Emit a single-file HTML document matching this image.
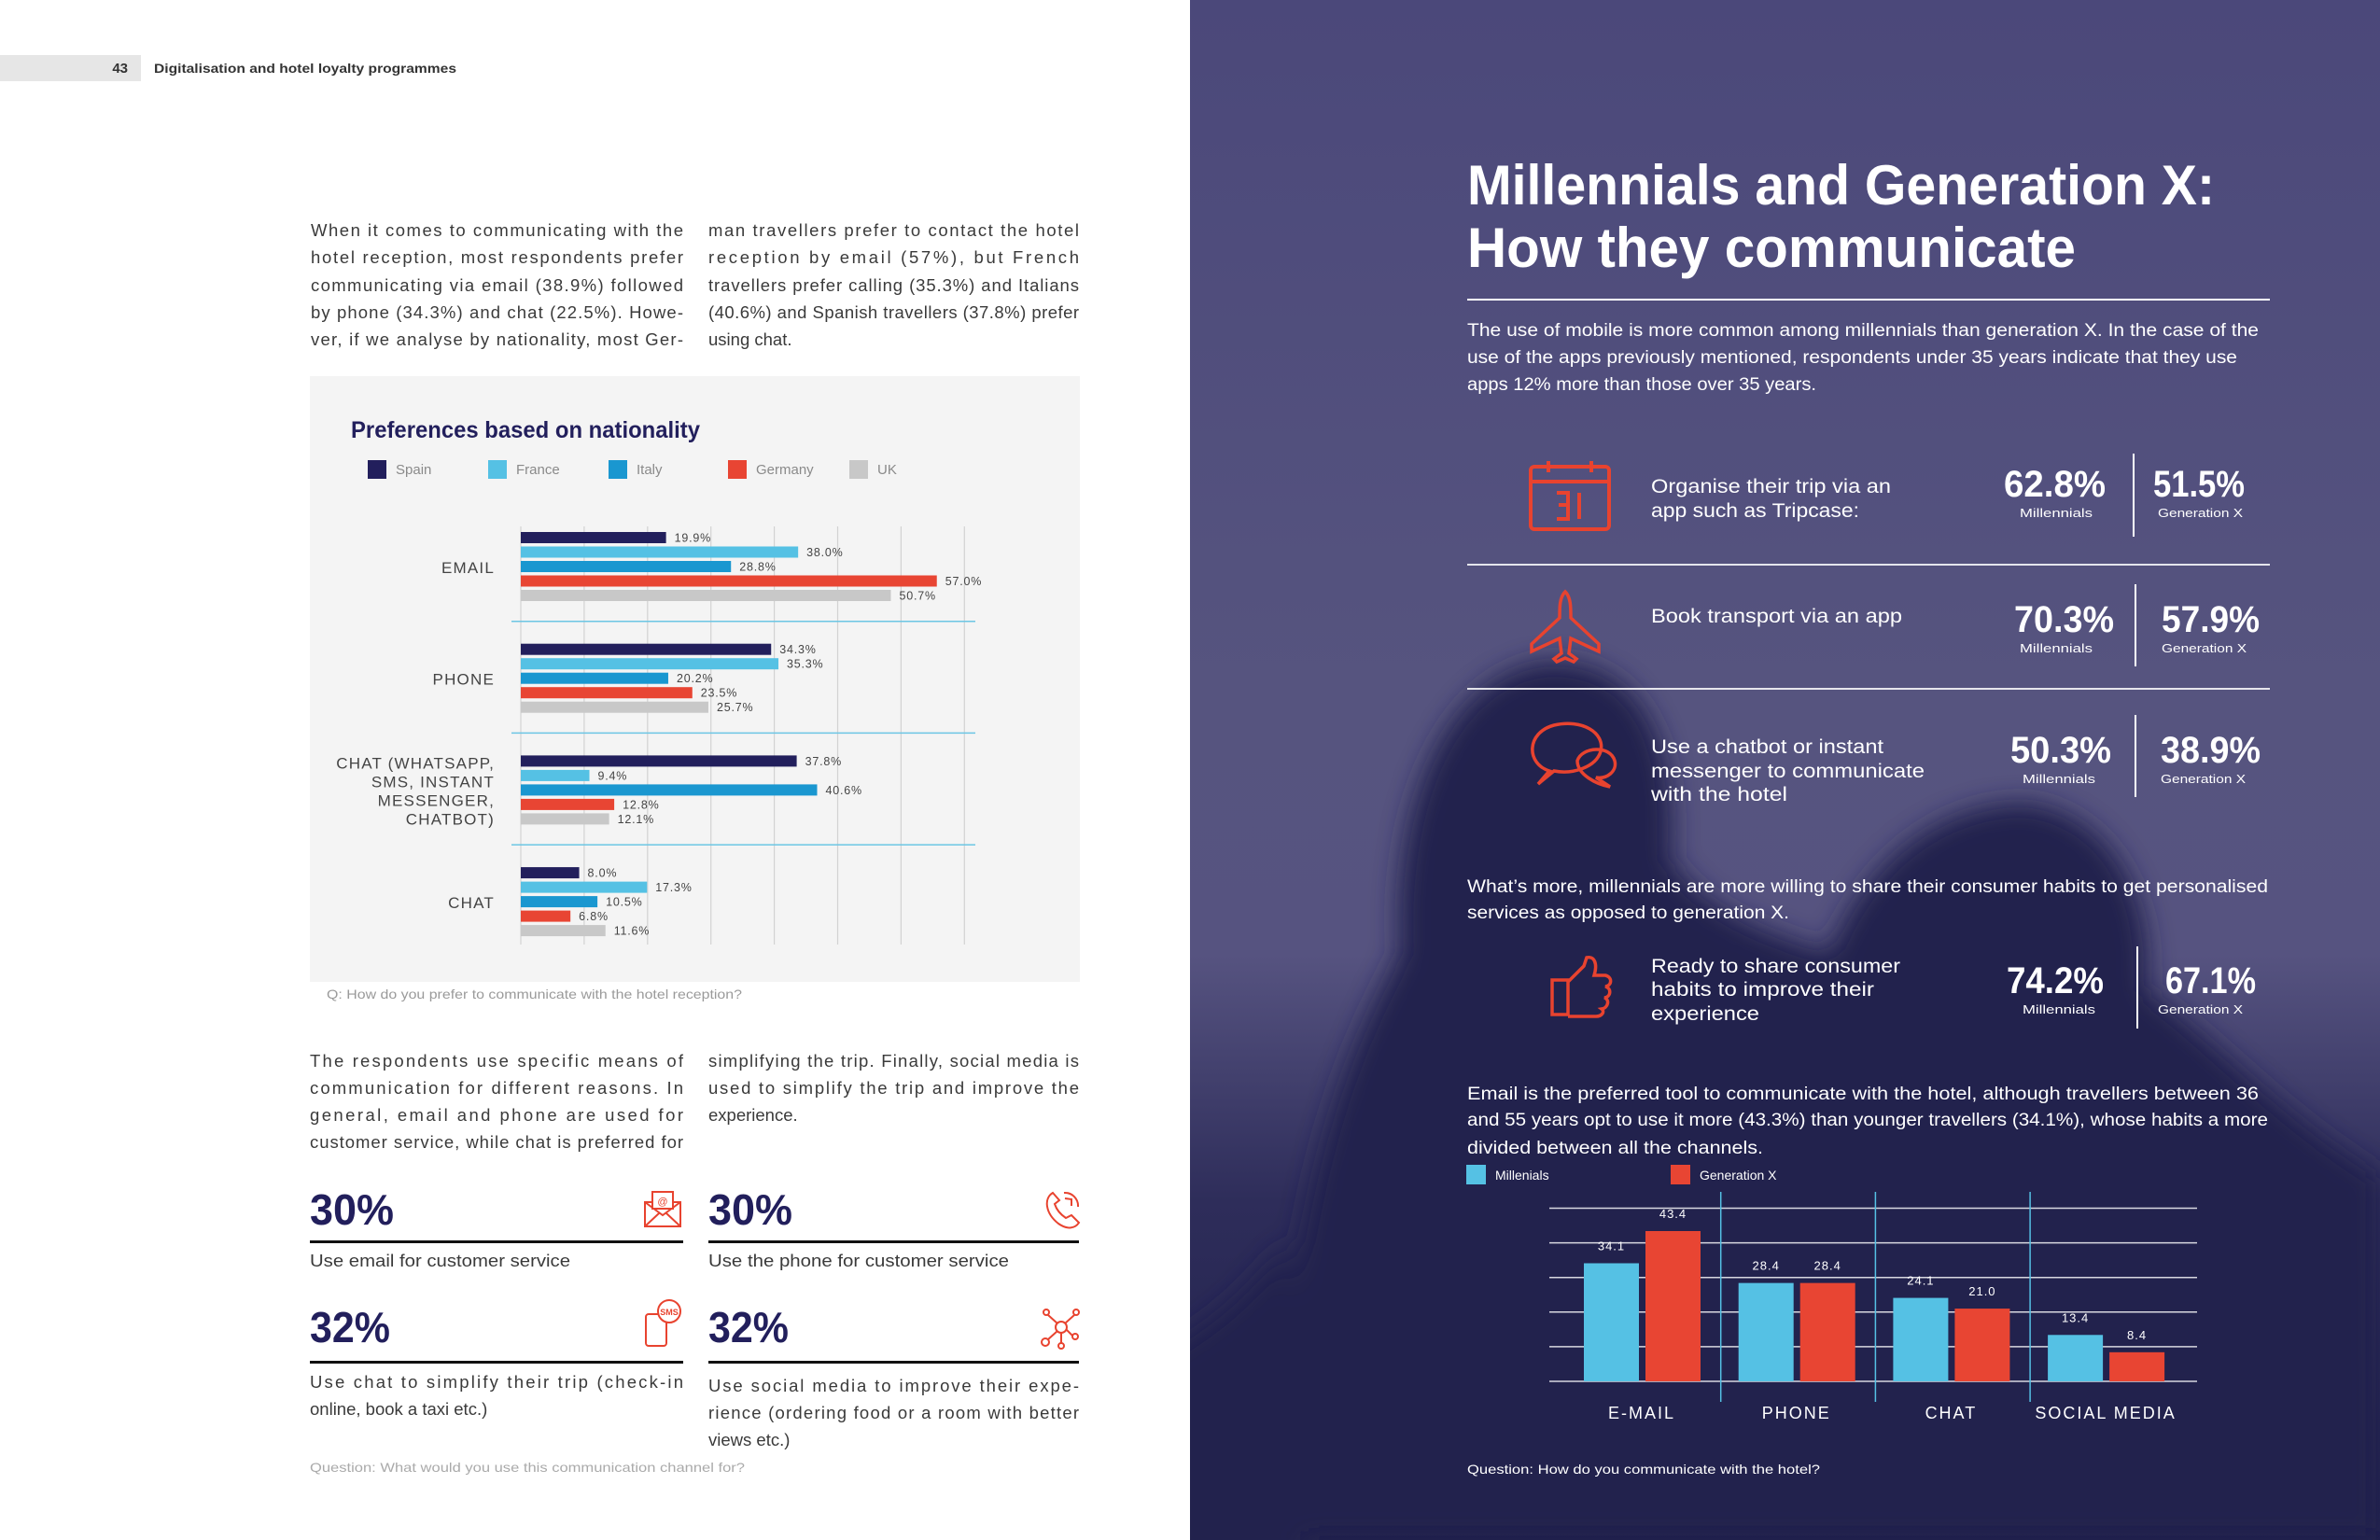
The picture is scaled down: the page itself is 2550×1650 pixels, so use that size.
<!DOCTYPE html>
<html><head><meta charset="utf-8"><title>Millennials and Generation X</title>
<style>
html,body{margin:0;padding:0;background:#fff;}
svg{display:block;font-family:"Liberation Sans",sans-serif;}
</style></head>
<body>
<svg id="page" width="2550" height="1650" viewBox="0 0 2550 1650" xmlns="http://www.w3.org/2000/svg">
<defs>
<linearGradient id="sky" x1="0" y1="0" x2="0" y2="1">
<stop offset="0" stop-color="#4b487a"/>
<stop offset="0.45" stop-color="#56547f"/>
<stop offset="0.62" stop-color="#565380"/>
<stop offset="0.78" stop-color="#2e2d5a"/>
<stop offset="1" stop-color="#1f1f4b"/>
</linearGradient>
<filter id="blur"><feGaussianBlur stdDeviation="14"/></filter>
<clipPath id="rightClip"><rect x="1275" y="0" width="1275" height="1650"/></clipPath>
</defs>

<!-- LEFT PAGE -->
<rect x="0" y="0" width="1275" height="1650" fill="#ffffff"/>
<rect x="0" y="59" width="151" height="28" fill="#e6e6e6"/>
<text x="137" y="78" text-anchor="end" font-size="15" font-weight="bold" fill="#333">43</text>
<text x="165" y="78" font-size="14" font-weight="bold" fill="#333" textLength="324" lengthAdjust="spacingAndGlyphs">Digitalisation and hotel loyalty programmes</text>

<g font-size="18.5" fill="#3a3a3a">
<text x="333" y="253" textLength="399" lengthAdjust="spacing">When it comes to communicating with the</text>
<text x="333" y="282" textLength="399" lengthAdjust="spacing">hotel reception, most respondents prefer</text>
<text x="333" y="312" textLength="399" lengthAdjust="spacing">communicating via email (38.9%) followed</text>
<text x="333" y="341" textLength="399" lengthAdjust="spacing">by phone (34.3%) and chat (22.5%). Howe-</text>
<text x="333" y="370" textLength="399" lengthAdjust="spacing">ver, if we analyse by nationality, most Ger-</text>
<text x="759" y="253" textLength="397" lengthAdjust="spacing">man travellers prefer to contact the hotel</text>
<text x="759" y="282" textLength="397" lengthAdjust="spacing">reception by email (57%), but French</text>
<text x="759" y="312" textLength="397" lengthAdjust="spacing">travellers prefer calling (35.3%) and Italians</text>
<text x="759" y="341" textLength="397" lengthAdjust="spacing">(40.6%) and Spanish travellers (37.8%) prefer</text>
<text x="759" y="370">using chat.</text>
</g>

<rect x="332" y="403" width="825" height="649" fill="#f4f4f4"/>
<text x="376" y="469" font-size="25" font-weight="bold" fill="#221f5c" textLength="374" lengthAdjust="spacingAndGlyphs">Preferences based on nationality</text>
<g id="leftLegend"></g>
<g id="leftChart"></g>
<text x="350" y="1070" font-size="14" fill="#9a9a9a" textLength="445" lengthAdjust="spacingAndGlyphs">Q: How do you prefer to communicate with the hotel reception?</text>

<g font-size="18.5" fill="#3a3a3a">
<text x="332" y="1143" textLength="400" lengthAdjust="spacing">The respondents use specific means of</text>
<text x="332" y="1172" textLength="400" lengthAdjust="spacing">communication for different reasons. In</text>
<text x="332" y="1201" textLength="400" lengthAdjust="spacing">general, email and phone are used for</text>
<text x="332" y="1230" textLength="400" lengthAdjust="spacing">customer service, while chat is preferred for</text>
<text x="759" y="1143" textLength="397" lengthAdjust="spacing">simplifying the trip. Finally, social media is</text>
<text x="759" y="1172" textLength="397" lengthAdjust="spacing">used to simplify the trip and improve the</text>
<text x="759" y="1201">experience.</text>
</g>

<g>
<text x="332" y="1312" font-size="46" font-weight="bold" fill="#221f5c" textLength="90" lengthAdjust="spacingAndGlyphs">30%</text>
<rect x="332" y="1329" width="400" height="3" fill="#111"/>
<text x="332" y="1357" font-size="18.5" fill="#3a3a3a" textLength="279" lengthAdjust="spacingAndGlyphs">Use email for customer service</text>
<g fill="none" stroke="#e8432f" stroke-width="2"><rect x="691" y="1288" width="38" height="26"/><path d="M691 1288 L710 1302 L729 1288 M691 1314 L706 1300 M729 1314 L714 1300"/><rect x="699" y="1277" width="22" height="18" fill="#fff"/><text x="710" y="1291" font-size="11" text-anchor="middle" fill="#e8432f" stroke="none">@</text></g>
</g>
<g>
<text x="759" y="1312" font-size="46" font-weight="bold" fill="#221f5c" textLength="90" lengthAdjust="spacingAndGlyphs">30%</text>
<rect x="759" y="1329" width="397" height="3" fill="#111"/>
<text x="759" y="1357" font-size="18.5" fill="#3a3a3a" textLength="322" lengthAdjust="spacingAndGlyphs">Use the phone for customer service</text>
<path d="M1128 1278 C1118 1284 1120 1300 1134 1311 C1144 1318 1152 1316 1156 1310 L1148 1302 L1142 1305 C1136 1301 1132 1296 1130 1290 L1135 1286 Z M1140 1278 A14 14 0 0 1 1155 1293 M1141 1284 L1148 1285 L1148 1292" fill="none" stroke="#e8432f" stroke-width="2"/>
</g>
<g>
<text x="332" y="1438" font-size="46" font-weight="bold" fill="#221f5c" textLength="86" lengthAdjust="spacingAndGlyphs">32%</text>
<rect x="332" y="1458" width="400" height="3" fill="#111"/>
<text x="332" y="1487" font-size="18.5" fill="#3a3a3a" textLength="400" lengthAdjust="spacing">Use chat to simplify their trip (check-in</text>
<text x="332" y="1516" font-size="18.5" fill="#3a3a3a">online, book a taxi etc.)</text>
<g fill="none" stroke="#e8432f" stroke-width="2"><rect x="692" y="1408" width="22" height="34" rx="3"/><circle cx="717" cy="1405" r="12" fill="#fff"/><text x="717" y="1409" font-size="9" font-weight="bold" text-anchor="middle" fill="#e8432f" stroke="none">SMS</text></g>
</g>
<g>
<text x="759" y="1438" font-size="46" font-weight="bold" fill="#221f5c" textLength="86" lengthAdjust="spacingAndGlyphs">32%</text>
<rect x="759" y="1458" width="397" height="3" fill="#111"/>
<text x="759" y="1491" font-size="18.5" fill="#3a3a3a" textLength="397" lengthAdjust="spacing">Use social media to improve their expe-</text>
<text x="759" y="1520" font-size="18.5" fill="#3a3a3a" textLength="397" lengthAdjust="spacing">rience (ordering food or a room with better</text>
<text x="759" y="1549" font-size="18.5" fill="#3a3a3a">views etc.)</text>
<g fill="none" stroke="#e8432f" stroke-width="2"><circle cx="1137" cy="1422" r="6"/><circle cx="1121" cy="1406" r="3"/><circle cx="1153" cy="1406" r="3"/><circle cx="1120" cy="1438" r="4"/><circle cx="1152" cy="1432" r="3"/><circle cx="1137" cy="1442" r="3"/><path d="M1123 1409 L1133 1418 M1151 1409 L1141 1418 M1123 1435 L1133 1426 M1149 1431 L1143 1425 M1137 1428 L1137 1439"/></g>
</g>
<text x="332" y="1577" font-size="14" fill="#aaaaaa" textLength="466" lengthAdjust="spacingAndGlyphs">Question: What would you use this communication channel for?</text>

<!-- RIGHT PAGE -->
<rect x="1275" y="0" width="1275" height="1650" fill="url(#sky)"/>
<g clip-path="url(#rightClip)">
<g filter="url(#blur)" fill="#23224e">
<path d="M1330 1650 L1400 1300 C1430 1150 1470 1080 1500 1020 C1490 880 1540 730 1650 710 C1760 700 1800 800 1790 920 C1830 980 1900 1000 1960 1020 C2000 920 2080 860 2170 860 C2260 870 2310 960 2300 1060 C2380 1120 2450 1200 2550 1260 L2550 1650 Z"/>
<path d="M1240 1700 L1240 1450 C1300 1420 1340 1380 1380 1330 L1400 1700 Z"/>
</g>
</g>

<g fill="#ffffff">
<text x="1572" y="219" font-size="60" font-weight="bold" textLength="801" lengthAdjust="spacingAndGlyphs">Millennials and Generation X:</text>
<text x="1572" y="286" font-size="60" font-weight="bold" textLength="652" lengthAdjust="spacingAndGlyphs">How they communicate</text>
</g>
<rect x="1572" y="320" width="860" height="2" fill="#ffffff"/>
<g fill="#ffffff" font-size="19">
<text x="1572" y="360" textLength="848" lengthAdjust="spacingAndGlyphs">The use of mobile is more common among millennials than generation X. In the case of the</text>
<text x="1572" y="389" textLength="825" lengthAdjust="spacingAndGlyphs">use of the apps previously mentioned, respondents under 35 years indicate that they use</text>
<text x="1572" y="418" textLength="374" lengthAdjust="spacingAndGlyphs">apps 12% more than those over 35 years.</text>
</g>

<g fill="none" stroke="#e8432f" stroke-width="4"><rect x="1640" y="500" width="84" height="67" rx="4"/><line x1="1640" y1="516" x2="1724" y2="516"/><line x1="1659" y1="494" x2="1659" y2="506"/><line x1="1705" y1="494" x2="1705" y2="506"/><path d="M1668 528 H1680 V541 H1670 M1680 541 V556 H1668 M1692 528 V556"/></g>
<g fill="#ffffff">
<text x="1769" y="528" font-size="21" textLength="257" lengthAdjust="spacingAndGlyphs">Organise their trip via an</text>
<text x="1769" y="554" font-size="21" textLength="223" lengthAdjust="spacingAndGlyphs">app such as Tripcase:</text>
<text x="2147" y="532" font-size="40" font-weight="bold" textLength="109" lengthAdjust="spacingAndGlyphs">62.8%</text>
<text x="2164" y="554" font-size="13" textLength="78" lengthAdjust="spacingAndGlyphs">Millennials</text>
<text x="2307" y="532" font-size="40" font-weight="bold" textLength="98" lengthAdjust="spacingAndGlyphs">51.5%</text>
<text x="2312" y="554" font-size="13" textLength="91" lengthAdjust="spacingAndGlyphs">Generation X</text>
<rect x="2285" y="486" width="2" height="89"/>
</g>
<rect x="1572" y="604" width="860" height="2" fill="#ffffff" opacity="0.85"/>
<path d="M1677 634 C1671 640 1671 650 1671 662 L1641 690 L1641 698 L1671 684 L1673 700 L1665 706 L1668 709 L1677 705 L1686 709 L1689 706 L1681 700 L1683 684 L1713 698 L1713 690 L1683 662 C1683 650 1683 640 1677 634 Z" fill="none" stroke="#e8432f" stroke-width="3.5"/>
<g fill="#ffffff">
<text x="1769" y="667" font-size="21" textLength="269" lengthAdjust="spacingAndGlyphs">Book transport via an app</text>
<text x="2158" y="677" font-size="40" font-weight="bold" textLength="107" lengthAdjust="spacingAndGlyphs">70.3%</text>
<text x="2164" y="699" font-size="13" textLength="78" lengthAdjust="spacingAndGlyphs">Millennials</text>
<text x="2316" y="677" font-size="40" font-weight="bold" textLength="105" lengthAdjust="spacingAndGlyphs">57.9%</text>
<text x="2316" y="699" font-size="13" textLength="91" lengthAdjust="spacingAndGlyphs">Generation X</text>
<rect x="2287" y="626" width="2" height="88"/>
</g>
<rect x="1572" y="737" width="860" height="2" fill="#ffffff" opacity="0.85"/>
<g fill="none" stroke="#e8432f" stroke-width="3.5"><path d="M1660 826 C1635 818 1635 785 1665 777 C1695 770 1720 785 1715 805 C1710 822 1685 830 1665 826 L1648 840 Z"/><path d="M1690 815 C1695 800 1725 798 1730 815 C1733 826 1722 835 1710 833 L1725 843 C1710 840 1690 830 1690 815 Z"/></g>
<g fill="#ffffff">
<text x="1769" y="807" font-size="21" textLength="249" lengthAdjust="spacingAndGlyphs">Use a chatbot or instant</text>
<text x="1769" y="833" font-size="21" textLength="293" lengthAdjust="spacingAndGlyphs">messenger to communicate</text>
<text x="1769" y="858" font-size="21" textLength="146" lengthAdjust="spacingAndGlyphs">with the hotel</text>
<text x="2154" y="817" font-size="40" font-weight="bold" textLength="108" lengthAdjust="spacingAndGlyphs">50.3%</text>
<text x="2167" y="839" font-size="13" textLength="78" lengthAdjust="spacingAndGlyphs">Millennials</text>
<text x="2315" y="817" font-size="40" font-weight="bold" textLength="107" lengthAdjust="spacingAndGlyphs">38.9%</text>
<text x="2315" y="839" font-size="13" textLength="91" lengthAdjust="spacingAndGlyphs">Generation X</text>
<rect x="2287" y="766" width="2" height="88"/>
</g>
<g fill="#ffffff" font-size="19">
<text x="1572" y="956" textLength="858" lengthAdjust="spacingAndGlyphs">What’s more, millennials are more willing to share their consumer habits to get personalised</text>
<text x="1572" y="984" textLength="345" lengthAdjust="spacingAndGlyphs">services as opposed to generation X.</text>
</g>
<path d="M1663 1050 H1680 V1087 H1663 Z M1680 1052 L1697 1035 L1700 1026 C1708 1024 1712 1032 1708 1045 H1720 C1728 1047 1727 1056 1720 1057 C1727 1059 1726 1068 1719 1069 C1725 1071 1723 1080 1716 1081 C1720 1084 1716 1089 1710 1089 H1680" fill="none" stroke="#e8432f" stroke-width="3.5"/>
<g fill="#ffffff">
<text x="1769" y="1042" font-size="21" textLength="267" lengthAdjust="spacingAndGlyphs">Ready to share consumer</text>
<text x="1769" y="1067" font-size="21" textLength="239" lengthAdjust="spacingAndGlyphs">habits to improve their</text>
<text x="1769" y="1093" font-size="21" textLength="116" lengthAdjust="spacingAndGlyphs">experience</text>
<text x="2150" y="1064" font-size="40" font-weight="bold" textLength="104" lengthAdjust="spacingAndGlyphs">74.2%</text>
<text x="2167" y="1086" font-size="13" textLength="78" lengthAdjust="spacingAndGlyphs">Millennials</text>
<text x="2320" y="1064" font-size="40" font-weight="bold" textLength="97" lengthAdjust="spacingAndGlyphs">67.1%</text>
<text x="2312" y="1086" font-size="13" textLength="91" lengthAdjust="spacingAndGlyphs">Generation X</text>
<rect x="2289" y="1014" width="2" height="88"/>
</g>
<g fill="#ffffff" font-size="19">
<text x="1572" y="1178" textLength="848" lengthAdjust="spacingAndGlyphs">Email is the preferred tool to communicate with the hotel, although travellers between 36</text>
<text x="1572" y="1206" textLength="858" lengthAdjust="spacingAndGlyphs">and 55 years opt to use it more (43.3%) than younger travellers (34.1%), whose habits a more</text>
<text x="1572" y="1236" textLength="317" lengthAdjust="spacingAndGlyphs">divided between all the channels.</text>
</g>
<g id="rightLegend"></g>
<g id="rightChart"></g>
<text x="1572" y="1579" font-size="14" fill="#ffffff" textLength="378" lengthAdjust="spacingAndGlyphs">Question: How do you communicate with the hotel?</text>
</svg>

<script>
// ---- Left chart data ----
const leftCategories = ["EMAIL", "PHONE", "CHAT (WHATSAPP,|SMS, INSTANT|MESSENGER,|CHATBOT)", "CHAT"];
const leftSeriesNames = ["Spain", "France", "Italy", "Germany", "UK"];
const spainValues = [19.9, 34.3, 37.8, 8.0];
const franceValues = [38.0, 35.3, 9.4, 17.3];
const italyValues = [28.8, 20.2, 40.6, 10.5];
const germanyValues = [57.0, 23.5, 12.8, 6.8];
const ukValues = [50.7, 25.7, 12.1, 11.6];
const leftColors = ["#221f5c", "#55c1e4", "#1a97d0", "#e84533", "#c8c8c8"];

// ---- Right chart data ----
const rightCategories = ["E-MAIL", "PHONE", "CHAT", "SOCIAL MEDIA"];
const millennialValues = [34.1, 28.4, 24.1, 13.4];
const genXValues = [43.4, 28.4, 21.0, 8.4];
const rightTicks = [0, 10, 20, 30, 40, 50];

const NS = "http://www.w3.org/2000/svg";
function mk(tag, attrs, parent) {
  const e = document.createElementNS(NS, tag);
  for (const k in attrs) e.setAttribute(k, attrs[k]);
  parent.appendChild(e);
  return e;
}

(function leftChart() {
  const g = document.getElementById("leftChart");
  const lg = document.getElementById("leftLegend");
  const series = [spainValues, franceValues, italyValues, germanyValues, ukValues];
  const x0 = 558, pxPerUnit = 7.82;
  const xScale = v => x0 + v * pxPerUnit;
  const groupY = i => 570 + i * 119.7;
  const barY = (i, j) => groupY(i) + j * 15.5;
  for (let k = 0; k < 8; k++) {
    const l = mk("line", {x1: x0 + k * 67.9, x2: x0 + k * 67.9, y1: 564, y2: 1012, stroke: "#d2d2d2", "stroke-width": 1.2}, g);
    
    
  }
  for (let i = 1; i < leftCategories.length; i++) {
    const y = groupY(i) - 24;
    const s = mk("line", {x1: 548, x2: 1045, y1: y, y2: y, stroke: "#6cc6e4", "stroke-width": 1.5}, g);
    
    
  }
  leftCategories.forEach((cat, i) => {
    const lines = cat.split("|");
    const cy = groupY(i) + 38;
    lines.forEach((ln, k) => {
      const t = mk("text", {x: 530, y: cy + 6 + (k - (lines.length - 1) / 2) * 20, "text-anchor": "end", "font-size": 17, fill: "#444", "letter-spacing": 1.2}, g);
      t.textContent = ln;
      
      
    });
    series.forEach((vals, j) => {
      const v = vals[i];
      const r = mk("rect", {x: x0, y: barY(i, j), width: xScale(v) - x0, height: 12, fill: leftColors[j]}, g);
      
      
      const t = mk("text", {x: xScale(v) + 9, y: barY(i, j) + 10.5, "font-size": 12.5, fill: "#444", "letter-spacing": 0.8}, g);
      t.textContent = v.toFixed(1) + "%";
      
      
    });
  });
  const legendX = [394, 523, 652, 780, 910];
  leftSeriesNames.forEach((n, j) => {
    const r = mk("rect", {x: legendX[j], y: 493, width: 20, height: 20, fill: leftColors[j]}, lg);
    
    
    const t = mk("text", {x: legendX[j] + 30, y: 508, "font-size": 15, fill: "#8a8a8a"}, lg);
    t.textContent = n;
    
    
  });
})();

(function rightChart() {
  const g = document.getElementById("rightChart");
  const lg = document.getElementById("rightLegend");
  const base = 1480, pxPerUnit = 3.71;
  const yScale = v => base - v * pxPerUnit;
  const groupX = i => 1697 + i * 165.7;
  rightTicks.forEach(t => {
    const l = mk("line", {x1: 1660, x2: 2354, y1: yScale(t), y2: yScale(t), stroke: "#d8d8e0", "stroke-width": 1.5}, g);
    
    
  });
  for (let i = 1; i < rightCategories.length; i++) {
    const x = groupX(i) - 19;
    const s = mk("line", {x1: x, x2: x, y1: 1277, y2: 1502, stroke: "#55c1e4", "stroke-width": 1.5}, g);
    
    
  }
  rightCategories.forEach((cat, i) => {
    [[millennialValues, "#55c1e4", 0, "millennials"], [genXValues, "#e84533", 66, "generation-x"]].forEach(([vals, col, off, nm]) => {
      const v = vals[i];
      const x = groupX(i) + off;
      const r = mk("rect", {x: x, y: yScale(v), width: 59, height: base - yScale(v), fill: col}, g);
      
      
      const t = mk("text", {x: x + 29.5, y: yScale(v) - 14, "text-anchor": "middle", "font-size": 13, fill: "#ffffff", "letter-spacing": 1}, g);
      t.textContent = v.toFixed(1);
      
      
    });
    const t = mk("text", {x: groupX(i) + 62, y: 1520, "text-anchor": "middle", "font-size": 18, fill: "#ffffff", "letter-spacing": 2}, g);
    t.textContent = cat;
    
    
  });
  const items = [["Millenials", "#55c1e4", 1571], ["Generation X", "#e84533", 1790]];
  items.forEach(([n, c, x]) => {
    const r = mk("rect", {x: x, y: 1248, width: 21, height: 21, fill: c}, lg);
    
    
    const t = mk("text", {x: x + 31, y: 1264, "font-size": 14, fill: "#ffffff"}, lg);
    t.textContent = n;
    
    
  });
})();
</script>
</body></html>
